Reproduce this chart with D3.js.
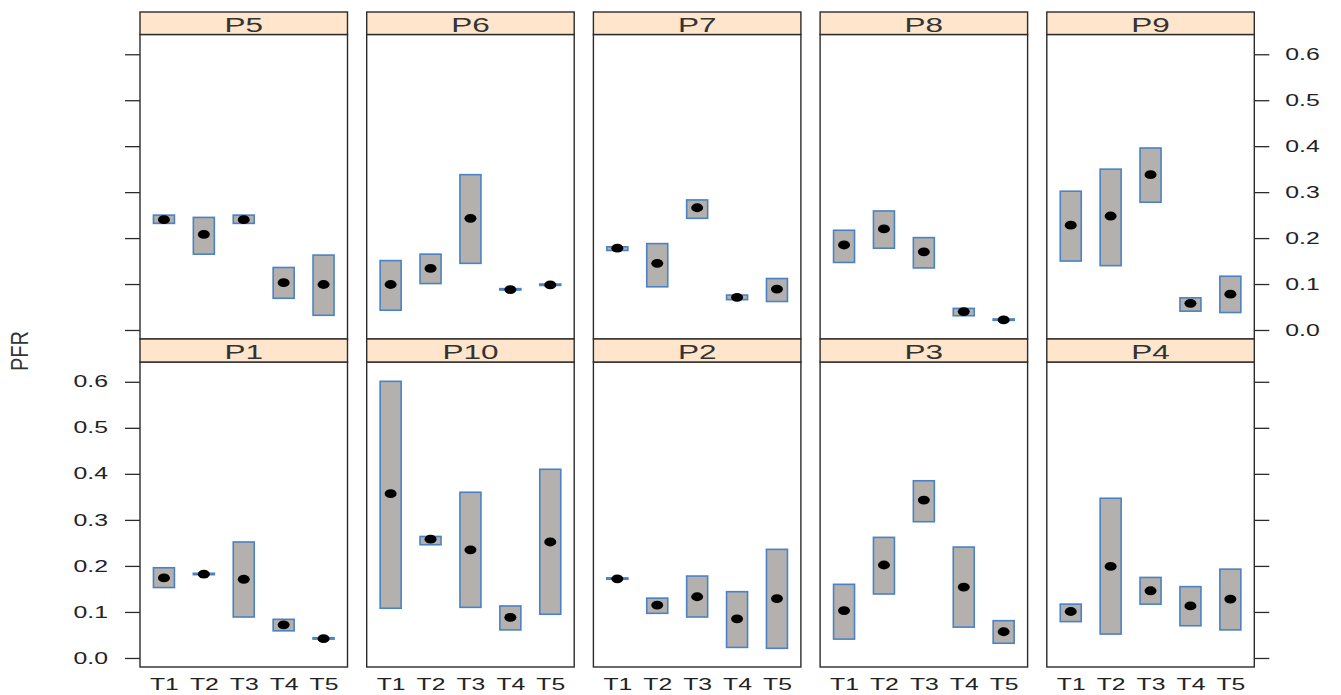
<!DOCTYPE html>
<html>
<head>
<meta charset="utf-8">
<script src="https://cdn.jsdelivr.net/npm/d3@7"></script>
<style>
  html, body { margin: 0; padding: 0; background: #ffffff; }
  svg { display: block; }
  text { font-family: "Liberation Sans", Arial, sans-serif; }
</style>
</head>
<body>
<svg id="chart" width="1341" height="695"></svg>
<script>
// ---------------- DATA ----------------
const treatments = ["T1", "T2", "T3", "T4", "T5"];
const topPanels = ["P5", "P6", "P7", "P8", "P9"];
const bottomPanels = ["P1", "P10", "P2", "P3", "P4"];
const yTickValues = [0.0, 0.1, 0.2, 0.3, 0.4, 0.5, 0.6];
const yLabel = "PFR";

// centre value (dot) per panel, T1..T5
const centerValues = {
  P5:  [0.240, 0.208, 0.240, 0.103, 0.099],
  P6:  [0.099, 0.134, 0.243, 0.088, 0.098],
  P7:  [0.178, 0.145, 0.266, 0.071, 0.089],
  P8:  [0.185, 0.220, 0.170, 0.040, 0.022],
  P9:  [0.228, 0.248, 0.338, 0.058, 0.078],
  P1:  [0.174, 0.182, 0.171, 0.072, 0.042],
  P10: [0.357, 0.258, 0.235, 0.088, 0.252],
  P2:  [0.172, 0.115, 0.133, 0.085, 0.129],
  P3:  [0.103, 0.202, 0.343, 0.154, 0.057],
  P4:  [0.101, 0.199, 0.146, 0.113, 0.128]
};
// lower edge of the interval box
const lowerValues = {
  P5:  [0.232, 0.165, 0.232, 0.069, 0.032],
  P6:  [0.043, 0.101, 0.145, 0.087, 0.097],
  P7:  [0.173, 0.094, 0.243, 0.066, 0.062],
  P8:  [0.147, 0.178, 0.135, 0.031, 0.021],
  P9:  [0.150, 0.140, 0.278, 0.041, 0.038],
  P1:  [0.153, 0.181, 0.089, 0.059, 0.041],
  P10: [0.108, 0.246, 0.110, 0.061, 0.095],
  P2:  [0.171, 0.097, 0.089, 0.023, 0.021],
  P3:  [0.041, 0.139, 0.296, 0.067, 0.032],
  P4:  [0.079, 0.052, 0.117, 0.070, 0.061]
};
// upper edge of the interval box
const upperValues = {
  P5:  [0.250, 0.245, 0.250, 0.136, 0.163],
  P6:  [0.151, 0.165, 0.338, 0.090, 0.100],
  P7:  [0.181, 0.188, 0.283, 0.076, 0.112],
  P8:  [0.217, 0.259, 0.201, 0.047, 0.024],
  P9:  [0.302, 0.350, 0.396, 0.070, 0.117],
  P1:  [0.196, 0.184, 0.252, 0.084, 0.044],
  P10: [0.601, 0.264, 0.360, 0.113, 0.410],
  P2:  [0.174, 0.130, 0.178, 0.144, 0.236],
  P3:  [0.160, 0.262, 0.385, 0.241, 0.081],
  P4:  [0.117, 0.347, 0.175, 0.155, 0.193]
};

// ---------------- LAYOUT / STYLE ----------------
const svg = d3.select("#chart");
svg.append("rect").attr("width", 1341).attr("height", 695).attr("fill", "#ffffff");

const panelLeft0 = 140, panelPitch = 226.7, panelWidth = 207.5;
const rows = [
  { names: topPanels,    stripTop: 12,  dataTop: 34.5, dataBottom: 339 },
  { names: bottomPanels, stripTop: 339, dataTop: 362,  dataBottom: 667 }
];
const yDomain = [-0.0196, 0.643];
const boxWidth = 21;
const borderColor = "#2b2b2b";
const stripFill = "#ffe5cc";
const boxFill = "#b3b0ae";
const boxStroke = "#4a82c4";
const textColor = "#222222";
const tickStretch = 1.55;
const xStretch = 1.5;
const stripStretch = 1.5;

const x = d3.scalePoint().domain(treatments).range([0, panelWidth]).padding(0.6);

rows.forEach((row, ri) => {
  const h = row.dataBottom - row.dataTop;
  const y = d3.scaleLinear().domain(yDomain).range([h, 0]);

  row.names.forEach((name, ci) => {
    const left = panelLeft0 + ci * panelPitch;
    const g = svg.append("g").attr("transform", `translate(${left},${row.dataTop})`);

    const recs = treatments.map((t, i) => ({
      t, mid: centerValues[name][i], lo: lowerValues[name][i], hi: upperValues[name][i]
    }));
    g.selectAll("rect.box").data(recs).enter().append("rect")
      .attr("class", "box")
      .attr("x", d => x(d.t) - boxWidth / 2)
      .attr("width", boxWidth)
      .attr("y", d => y(d.hi))
      .attr("height", d => Math.max(0.5, y(d.lo) - y(d.hi)))
      .attr("fill", boxFill)
      .attr("stroke", boxStroke)
      .attr("stroke-width", 1.6);

    g.selectAll("ellipse.dot").data(recs).enter().append("ellipse")
      .attr("class", "dot")
      .attr("cx", d => x(d.t))
      .attr("cy", d => y(d.mid))
      .attr("rx", 6)
      .attr("ry", 4.4)
      .attr("fill", "#000000");

    g.append("rect")
      .attr("x", 0).attr("y", 0).attr("width", panelWidth).attr("height", h)
      .attr("fill", "none").attr("stroke", borderColor).attr("stroke-width", 1.4);

    const sh = row.dataTop - row.stripTop;
    const sg = svg.append("g").attr("transform", `translate(${left},${row.stripTop})`);
    sg.append("rect")
      .attr("width", panelWidth).attr("height", sh)
      .attr("fill", stripFill).attr("stroke", borderColor).attr("stroke-width", 1.4);
    sg.append("text")
      .attr("transform", `translate(${panelWidth / 2},${sh - 3}) scale(${stripStretch},1)`)
      .attr("text-anchor", "middle")
      .attr("font-size", 21)
      .attr("fill", "#333333")
      .text(name);

    if (ci === 0) {
      const ax = d3.axisLeft(y).tickValues(yTickValues).tickSize(15).tickPadding(0)
        .tickFormat(ri === 1 ? d3.format(".1f") : () => "");
      const ag = g.append("g").call(ax);
      ag.select(".domain").remove();
      ag.selectAll("line").attr("stroke", borderColor).attr("stroke-width", 1.3);
      ag.selectAll("text")
        .attr("x", -32 / tickStretch)
        .attr("transform", `scale(${tickStretch},1)`)
        .attr("font-size", 16)
        .attr("font-family", "Liberation Sans, Arial, sans-serif")
        .attr("fill", textColor);
    }
    if (ci === row.names.length - 1) {
      const ax = d3.axisRight(y).tickValues(yTickValues).tickSize(15).tickPadding(0)
        .tickFormat(ri === 0 ? d3.format(".1f") : () => "");
      const ag = g.append("g").attr("transform", `translate(${panelWidth},0)`).call(ax);
      ag.select(".domain").remove();
      ag.selectAll("line").attr("stroke", borderColor).attr("stroke-width", 1.3);
      ag.selectAll("text")
        .attr("x", 31 / tickStretch)
        .attr("transform", `scale(${tickStretch},1)`)
        .attr("font-size", 16)
        .attr("font-family", "Liberation Sans, Arial, sans-serif")
        .attr("fill", textColor);
    }
    if (ri === 1) {
      const ax = d3.axisBottom(x).tickSize(0).tickPadding(11);
      const ag = g.append("g").attr("transform", `translate(0,${h})`).call(ax);
      ag.select(".domain").remove();
      ag.selectAll("text")
        .attr("transform", `scale(${xStretch},1)`)
        .attr("font-size", 16.5)
        .attr("font-family", "Liberation Sans, Arial, sans-serif")
        .attr("fill", textColor);
    }
  });
});

svg.append("text")
  .attr("transform", "translate(28,351) scale(1.15,1) rotate(-90)")
  .attr("text-anchor", "middle")
  .attr("font-size", 20)
  .attr("fill", "#333333")
  .text(yLabel);
</script>
</body>
</html>
